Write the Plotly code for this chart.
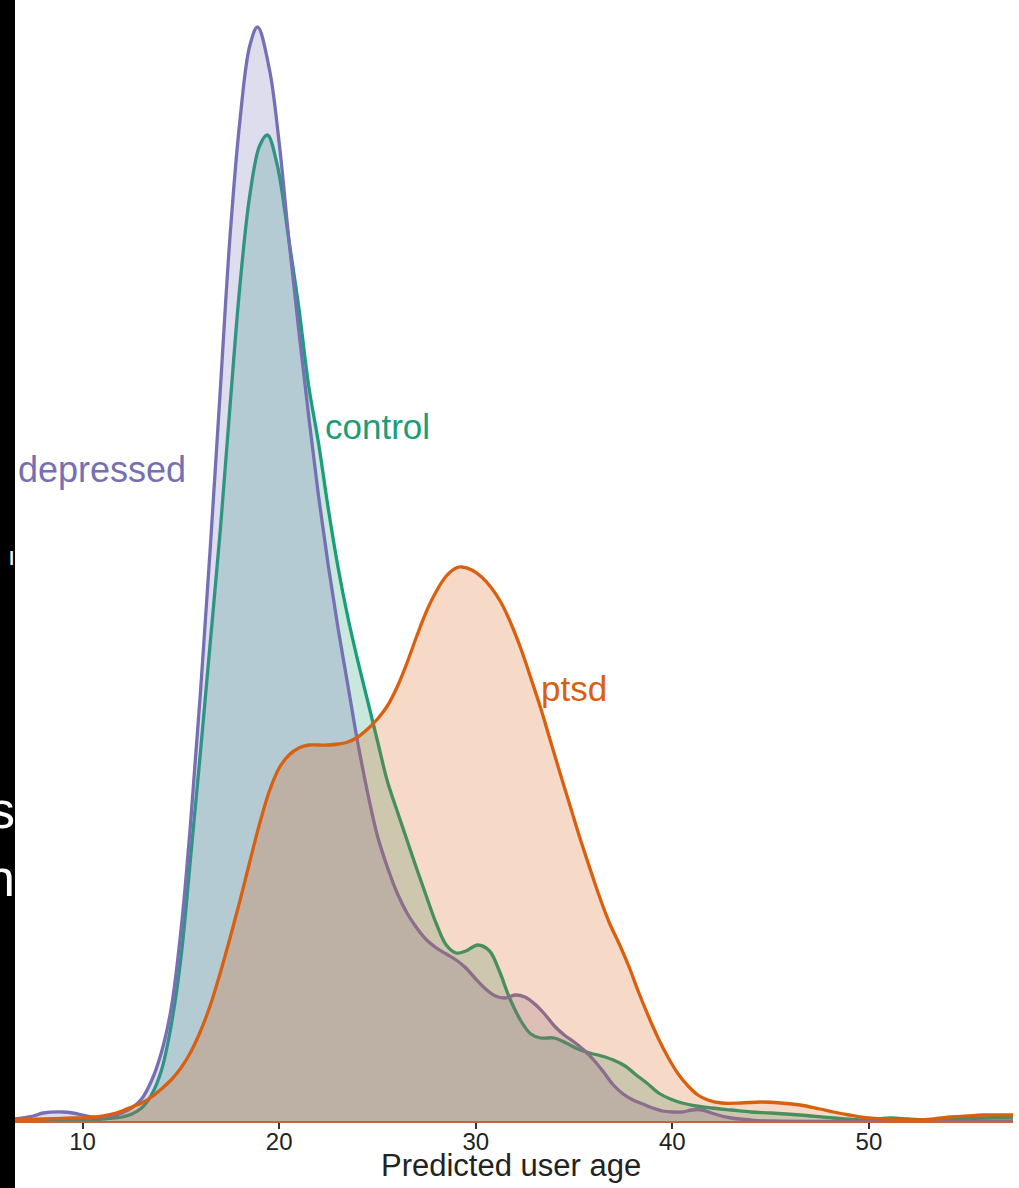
import plotly.graph_objects as go

# Kernel density estimates of predicted user age, one curve per group
control_age = [6.56, 10.0, 11.0, 11.5, 12.0, 12.5, 13.0, 13.5, 14.0, 14.5, 15.0, 15.5, 16.0, 16.5,
               17.0, 17.5, 18.0, 18.5, 19.0, 19.4, 19.9, 20.5, 21.0, 21.5, 22.0, 22.5, 23.0,
               23.5, 24.0, 24.5, 25.0, 25.5, 26.0, 26.5, 27.0, 27.5, 28.0, 28.5, 29.0, 29.5,
               30.1, 30.7, 31.2, 31.7, 32.3, 32.8, 33.3, 34.0, 34.6, 35.2, 35.8, 36.4, 37.0,
               37.6, 38.1, 38.7, 39.3, 39.9, 40.5, 41.2, 42.0, 43.0, 44.0, 45.0, 46.5, 48.2,
               49.9, 51.1, 52.0, 53.3, 55.8, 57.4]
control_density = [0.0000, 0.0001, 0.0002, 0.0003, 0.0004, 0.0007, 0.0013, 0.0026, 0.0050,
                   0.0095, 0.0163, 0.0265, 0.0370, 0.0480, 0.0590, 0.0715, 0.0835, 0.0925,
                   0.0975, 0.0986, 0.0956, 0.0880, 0.0813, 0.0735, 0.0678, 0.0612, 0.0553,
                   0.0503, 0.0460, 0.0420, 0.0380, 0.0340, 0.0310, 0.0281, 0.0252, 0.0224,
                   0.0197, 0.0176, 0.0168, 0.0170, 0.0176, 0.0170, 0.0150, 0.0124, 0.0100,
                   0.0087, 0.0083, 0.0083, 0.0078, 0.0072, 0.0068, 0.0065, 0.0061, 0.0055,
                   0.0047, 0.0038, 0.0028, 0.0022, 0.0018, 0.0015, 0.0013, 0.0011, 0.0009,
                   0.0008, 0.0006, 0.0003, 0.0001, 0.0003, 0.0002, 0.0001, 0.0003, 0.0004]

depressed_age = [6.56, 7.5, 8.0, 9.0, 9.5, 10.0, 10.5, 11.0, 11.5, 12.0, 12.5, 13.0, 13.5, 14.0,
                 14.5, 15.0, 15.5, 16.0, 16.5, 17.0, 17.5, 18.0, 18.5, 18.9, 19.5, 20.0, 20.5,
                 21.0, 21.5, 22.0, 22.5, 23.0, 23.5, 24.0, 24.5, 25.0, 25.5, 26.0, 26.5, 27.0,
                 27.5, 28.0, 28.5, 29.0, 29.5, 30.0, 30.5, 31.0, 31.5, 32.0, 32.5, 33.0, 33.5,
                 34.0, 34.5, 35.0, 35.5, 36.0, 36.5, 37.0, 37.5, 38.0, 38.5, 39.0, 39.5, 40.0,
                 40.5, 41.0, 41.5, 42.0, 42.5, 43.0, 44.0, 45.0, 57.4]
depressed_density = [0.0002, 0.0005, 0.0008, 0.0009, 0.0008, 0.0006, 0.0004, 0.0004, 0.0005,
                     0.0008, 0.0013, 0.0022, 0.0040, 0.0068, 0.0112, 0.0190, 0.0300, 0.0430,
                     0.0575, 0.0730, 0.0885, 0.1000, 0.1075, 0.1094, 0.1052, 0.0978, 0.0880,
                     0.0790, 0.0705, 0.0625, 0.0555, 0.0492, 0.0435, 0.0378, 0.0328, 0.0285,
                     0.0254, 0.0228, 0.0208, 0.0193, 0.0181, 0.0173, 0.0167, 0.0161, 0.0153,
                     0.0142, 0.0132, 0.0125, 0.0123, 0.0126, 0.0124, 0.0117, 0.0107, 0.0095,
                     0.0086, 0.0079, 0.0071, 0.0061, 0.0049, 0.0036, 0.0027, 0.0021, 0.0017,
                     0.0013, 0.0010, 0.0009, 0.0009, 0.0011, 0.0011, 0.0008, 0.0005, 0.0003,
                     0.0001, 0.0000, 0.0000]

ptsd_age = [6.56, 8.0, 9.5, 10.7, 11.5, 12.0, 12.5, 13.0, 13.5, 14.0, 14.5, 15.0, 15.5, 16.0,
            16.5, 17.0, 17.5, 18.0, 18.5, 19.0, 19.5, 20.0, 20.5, 21.0, 21.5, 22.0, 22.5, 23.0,
            23.5, 24.0, 24.5, 25.0, 25.5, 26.0, 26.5, 27.0, 27.5, 28.0, 28.5, 29.0, 29.3, 29.8,
            30.3, 30.8, 31.3, 31.8, 32.3, 32.8, 33.3, 33.8, 34.3, 34.8, 35.3, 35.8, 36.3, 36.8,
            37.3, 37.8, 38.3, 38.8, 39.3, 39.8, 40.3, 40.8, 41.3, 41.8, 42.5, 43.5, 44.5, 45.5,
            46.5, 47.5, 48.2, 49.0, 50.0, 51.0, 52.4, 53.3, 54.1, 55.0, 55.8, 57.4]
ptsd_density = [0.0001, 0.0002, 0.0003, 0.0004, 0.0007, 0.0010, 0.0014, 0.0018, 0.0024, 0.0032,
                0.0041, 0.0053, 0.0069, 0.0090, 0.0116, 0.0148, 0.0183, 0.0220, 0.0259, 0.0297,
                0.0330, 0.0353, 0.0366, 0.0373, 0.0376, 0.0376, 0.0376, 0.0377, 0.0379, 0.0384,
                0.0392, 0.0402, 0.0415, 0.0434, 0.0458, 0.0485, 0.0510, 0.0530, 0.0545, 0.0553,
                0.0554, 0.0551, 0.0544, 0.0533, 0.0518, 0.0497, 0.0472, 0.0443, 0.0413, 0.0380,
                0.0347, 0.0315, 0.0283, 0.0253, 0.0224, 0.0198, 0.0177, 0.0154, 0.0128, 0.0104,
                0.0082, 0.0063, 0.0047, 0.0035, 0.0026, 0.0021, 0.0018, 0.0018, 0.0019, 0.0018,
                0.0016, 0.0012, 0.0009, 0.0006, 0.0003, 0.0002, 0.0001, 0.0002, 0.0004, 0.0005,
                0.0006, 0.0006]

x_ticks = [10, 20, 30, 40, 50]

# Drawing order: control, then depressed, then ptsd on top
groups = [
    ("control", control_age, control_density, (27, 158, 119)),
    ("depressed", depressed_age, depressed_density, (117, 112, 179)),
    ("ptsd", ptsd_age, ptsd_density, (217, 96, 16)),
]

FONT = "Liberation Sans, Arial, Helvetica, sans-serif"
PLOT_W, PLOT_H = 998, 1121

fig = go.Figure()
for name, xs, ys, (r, g, b) in groups:
    fig.add_trace(go.Scatter(
        x=xs, y=ys, name=name, mode="lines",
        line=dict(color=f"rgb({r},{g},{b})", width=3.3, shape="spline", smoothing=1.0),
        fill="tozeroy", fillcolor=f"rgba({r},{g},{b},0.24)",
        hoverinfo="skip", showlegend=False,
    ))

# Direct labels next to each curve
fig.add_annotation(x=6.61, y=0.0652, xref="x", yref="y", text="depressed",
                   showarrow=False, xanchor="left", yanchor="middle",
                   font=dict(family=FONT, size=36, color="rgb(117,112,179)"))
fig.add_annotation(x=22.23, y=0.0695, xref="x", yref="y", text="control",
                   showarrow=False, xanchor="left", yanchor="middle",
                   font=dict(family=FONT, size=35, color="rgb(27,158,119)"))
fig.add_annotation(x=33.21, y=0.0433, xref="x", yref="y", text="ptsd",
                   showarrow=False, xanchor="left", yanchor="middle",
                   font=dict(family=FONT, size=35, color="rgb(217,96,16)"))

# Axis title
fig.add_annotation(x=(511 - 15) / PLOT_W, y=(PLOT_H - 1165) / PLOT_H, xref="paper", yref="paper",
                   text="Predicted user age", showarrow=False,
                   xanchor="center", yanchor="middle",
                   font=dict(family=FONT, size=31, color="#222222"))

# Dark side panel with clipped lettering on the left edge
fig.add_shape(type="rect", xref="paper", yref="paper",
              x0=-15 / PLOT_W, x1=0, y0=-67 / PLOT_H, y1=1.0,
              fillcolor="black", line=dict(width=0), layer="above")
for txt, py, size in [("s", 810, 52), ("n", 878, 52), ("ı", 556, 26)]:
    fig.add_annotation(x=2 / PLOT_W, y=(PLOT_H - py) / PLOT_H, xref="paper", yref="paper",
                       text=txt, showarrow=False, xanchor="right", yanchor="middle",
                       font=dict(family=FONT, size=size, color="white"))

fig.update_layout(
    width=1019, height=1188,
    margin=dict(l=15, r=6, t=0, b=67),
    paper_bgcolor="white", plot_bgcolor="white",
    font=dict(family=FONT, color="#222222"),
    xaxis=dict(
        range=[6.56, 57.33], tickvals=x_ticks, ticktext=[str(v) for v in x_ticks],
        showgrid=False, zeroline=False, showline=True, linecolor="#c8643a", linewidth=2,
        ticks="outside", ticklen=6, tickwidth=1.5, tickcolor="#333333",
        ticklabelstandoff=-8,
        tickfont=dict(family=FONT, size=24, color="#222222"),
    ),
    yaxis=dict(range=[0, 0.1121], visible=False),
)

fig.write_html("out.html")
